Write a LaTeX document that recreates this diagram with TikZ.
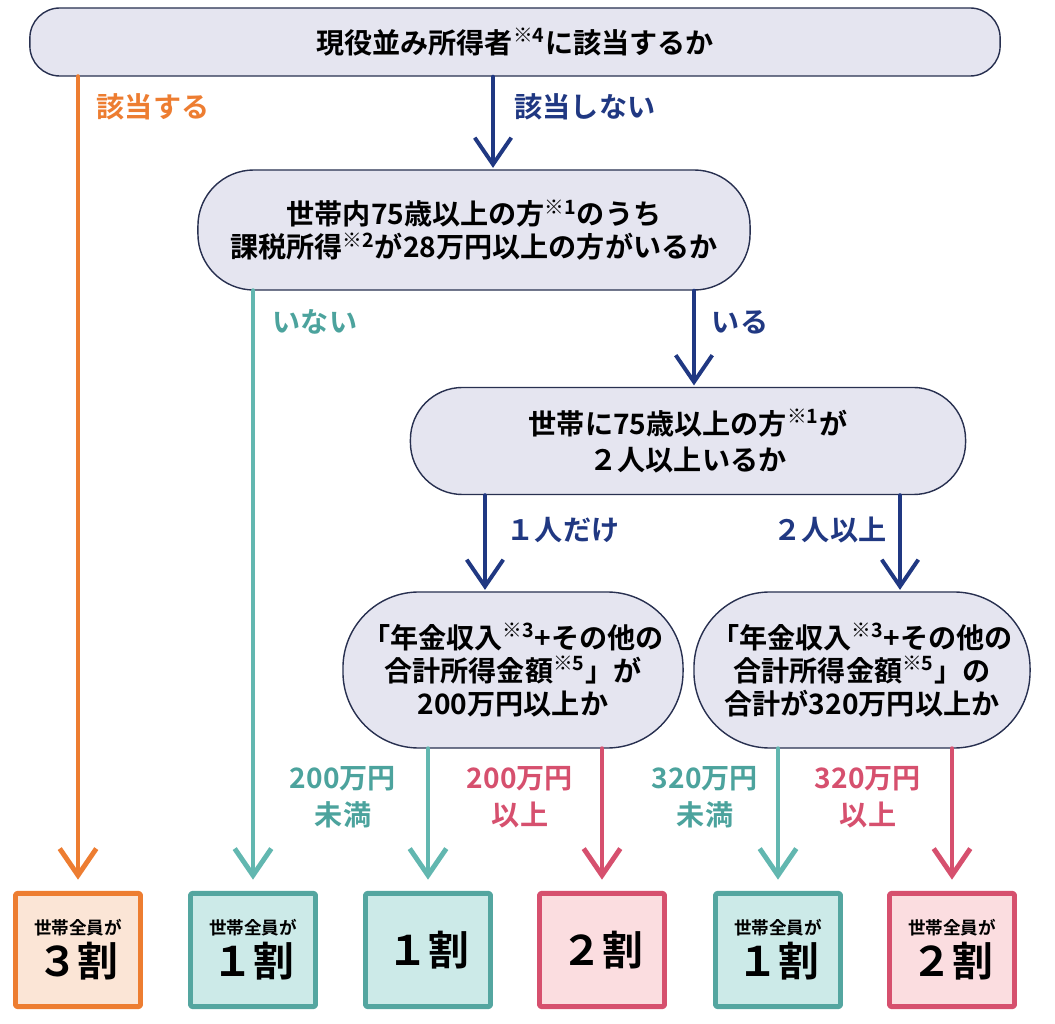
\documentclass[tikz,border=0pt]{standalone}
\usepackage{fontspec}
\setmainfont{Noto Sans CJK JP}[BoldFont={Noto Sans CJK JP Bold}]
\usetikzlibrary{arrows.meta}
\usetikzlibrary{positioning}
\definecolor{navyc}{RGB}{32,56,130}
\definecolor{orangec}{RGB}{237,125,49}
\definecolor{orangefill}{RGB}{251,229,214}
\definecolor{tealc}{RGB}{98,183,176}
\definecolor{tealtext}{RGB}{76,163,157}
\definecolor{tealbox}{RGB}{84,166,160}
\definecolor{tealfill}{RGB}{204,234,232}
\definecolor{pinkc}{RGB}{214,80,110}
\definecolor{pinkfill}{RGB}{251,221,224}
\definecolor{lavender}{RGB}{229,229,240}
\definecolor{boxline}{RGB}{40,48,80}
\newcommand\smalljp{\fontsize{12.5}{15}\selectfont}
\newcommand\bigjp{\fontsize{29}{32}\selectfont}
\tikzset{
  question/.style={draw=boxline,line width=1pt,fill=lavender,rounded corners=#1,
    align=center,font=\bfseries\fontsize{20}{23.5}\selectfont,inner sep=0pt},
  result/.style={draw=#1,line width=3.5pt,rounded corners=1.5pt,align=center,
    minimum width=3.125cm,minimum height=2.83cm,inner sep=0pt,font=\bfseries},
  lbl/.style={text=#1,align=center,font=\bfseries\fontsize{20}{26}\selectfont},
  flow/.style={draw=#1,line width=3.5pt,-{Straight Barb[length=19pt,width=26pt]}},
  yes/.style={flow=navyc,line width=2.8pt,shorten >=1pt}
}
\begin{document}
\begin{tikzpicture}[line cap=round,line join=round,x=0.025cm,y=-0.025cm]
\useasboundingbox (0,0) rectangle (1055,1024);
% questions
\node[question=0.75cm,minimum width=24.25cm,minimum height=1.7cm] (top) at (515,42)
  {現役並み所得者\textsuperscript{※4}に該当するか};
\node[question=1.4cm,minimum width=13.8cm,minimum height=3cm] (q2) at (474,230)
  {世帯内75歳以上の方\textsuperscript{※1}のうち\\課税所得\textsuperscript{※2}が28万円以上の方がいるか};
\node[question=1.3cm,minimum width=13.875cm,minimum height=2.675cm,font=\bfseries\fontsize{20}{26}\selectfont] (q3) at (688,441)
  {世帯に75歳以上の方\textsuperscript{※1}が\\２人以上いるか};
\node[question=1.9cm,minimum width=8.5cm,minimum height=3.9cm] (q4a) at (513,670)
  {「年金収入\textsuperscript{※3}+その他の\\合計所得金額\textsuperscript{※5}」が\\200万円以上か};
\node[question=1.9cm,minimum width=8.4cm,minimum height=3.9cm] (q4b) at (862,670)
  {「年金収入\textsuperscript{※3}+その他の\\合計所得金額\textsuperscript{※5}」の\\合計が320万円以上か};
% results
\foreach \n/\x/\c/\f/\t in {b1/78/orangec/orangefill/{\smalljp 世帯全員が\\[3pt]\bigjp ３割},
    b2/253/tealbox/tealfill/{\smalljp 世帯全員が\\[3pt]\bigjp １割},
    b3/428/tealbox/tealfill/{\bigjp １割},
    b4/602/pinkc/pinkfill/{\bigjp ２割},
    b5/778/tealbox/tealfill/{\smalljp 世帯全員が\\[3pt]\bigjp １割},
    b6/952/pinkc/pinkfill/{\smalljp 世帯全員が\\[3pt]\bigjp ２割}}
  \node[result=\c,fill=\f] (\n) at (\x,950) {\t};
% connectors
\draw[flow=orangec,shorten >=8pt] (b1.north |- top.south) -- (b1.north);
\draw[yes] ([xshift=0.475cm]q2.north |- top.south) -- ([xshift=0.475cm]q2.north);
\draw[flow=tealc,shorten >=8pt] (b2.north |- q2.south) -- (b2.north);
\draw[yes] ([xshift=0.15cm]q3.north |- q2.south) -- ([xshift=0.15cm]q3.north);
\draw[yes] ([xshift=-0.7cm]q4a.north |- q3.south) -- ([xshift=-0.7cm]q4a.north);
\draw[yes] ([xshift=0.95cm]q4b.north |- q3.south) -- ([xshift=0.95cm]q4b.north);
\draw[flow=tealc,shorten >=8pt] (b3.north |- q4a.south) -- (b3.north);
\draw[flow=pinkc,shorten >=8pt] (b4.north |- q4a.south) -- (b4.north);
\draw[flow=tealc,shorten >=8pt] (b5.north |- q4b.south) -- (b5.north);
\draw[flow=pinkc,shorten >=8pt] (b6.north |- q4b.south) -- (b6.north);
% labels
\node[lbl=orangec] (l1) at (153,107) {該当する};
\node[lbl=navyc] (l2) at (585,107) {該当しない};
\node[lbl=tealtext] (l3) at (315,322) {いない};
\node[lbl=navyc] (l4) at (740,322) {いる};
\node[lbl=navyc] (l5) at (563,530) {１人だけ};
\node[lbl=navyc] (l6) at (830,530) {２人以上};
\node[lbl=tealtext] (l7) at (343,797) {200万円\\未満};
\node[lbl=pinkc] (l8) at (520,797) {200万円\\以上};
\node[lbl=tealtext] (l9) at (705,797) {320万円\\未満};
\node[lbl=pinkc] (l10) at (868,797) {320万円\\以上};
\end{tikzpicture}
\end{document}
